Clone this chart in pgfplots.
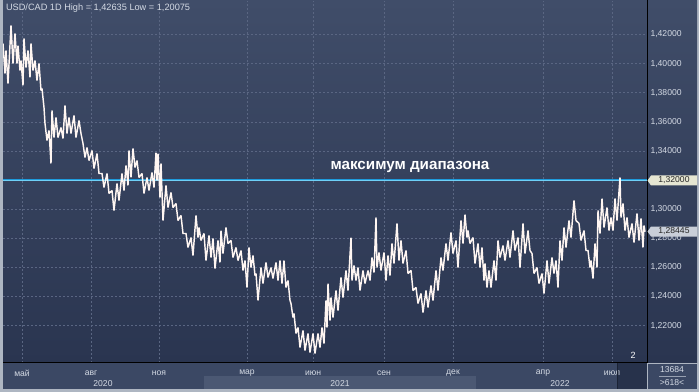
\documentclass[border=0pt]{standalone}
\usepackage{pgfplots}
\pgfplotsset{compat=1.18}
\usepackage{fontspec}
\setmainfont{Liberation Sans}
\definecolor{frame}{HTML}{AEB6C2}
\definecolor{bgtop}{HTML}{404D69}
\definecolor{bgbot}{HTML}{2A3550}
\definecolor{panel}{HTML}{3B4864}
\definecolor{yearlight}{HTML}{4B5873}
\definecolor{darkbox}{HTML}{27324B}
\definecolor{gridc}{HTML}{5A6682}
\definecolor{ticktext}{HTML}{D4DAE4}
\definecolor{cyanl}{HTML}{1E9BDB}
\definecolor{cyanc}{HTML}{6FD0F5}
\definecolor{series}{HTML}{FFF6F2}
\definecolor{tagone}{HTML}{E6E6D2}
\definecolor{tagtwo}{HTML}{C9CED8}
\begin{document}
\begin{tikzpicture}[x=1pt,y=1pt]
\fill[frame] (0,0) rectangle (699,391);
\shade[top color=bgtop,bottom color=bgbot] (3,29) rectangle (647,391);
\shade[top color=bgtop,bottom color=bgbot] (647,29) rectangle (697,391);
\fill[panel] (3,3) rectangle (647,29);
\fill[yearlight] (204,3) rectangle (476,16);
\fill[darkbox] (617,3) rectangle (647,29);
\fill[panel] (648,3) rectangle (697,28);
\begin{axis}[
  at={(3pt,29pt)}, anchor=south west,
  scale only axis, width=644pt, height=362pt,
  xmin=3, xmax=647, ymin=1.194664, ymax=1.443358,
  axis line style={draw=none}, major tick length=0pt,
  xtick={22,91,159,247,313,384,453,543,612},
  xticklabels={май,авг,ноя,мар,июн,сен,дек,апр,июл},
  ytick={1.22,1.24,1.26,1.28,1.30,1.34,1.36,1.38,1.40,1.42},
  yticklabel pos=right,
  grid=major,
  major grid style={draw=gridc, dash pattern=on 2pt off 2pt, line width=0.6pt},
  xticklabel style={font=\fontsize{8.6}{10}\selectfont, text=ticktext, anchor=center, yshift=-10.5pt},
  yticklabel style={font=\fontsize{8.6}{10}\selectfont, text=ticktext, anchor=west},
  /pgf/number format/.cd, fixed, fixed zerofill, precision=5, use comma, assume math mode=true,
]
\addplot[cyanl, line width=2.6pt] coordinates {(3,1.32) (647,1.32)};
\addplot[cyanc, line width=0.6pt] coordinates {(3,1.32) (647,1.32)};
\addplot[series, line width=1.45pt, line join=miter, miter limit=2] table {
x y
3 1.4138
5 1.3932
6 1.4090
8 1.3863
11 1.4262
13 1.4001
15 1.4207
17 1.4001
18 1.4124
20 1.3953
21 1.4021
23 1.3850
24 1.4173
26 1.3973
28 1.4090
30 1.3905
31 1.4138
33 1.3953
35 1.4021
37 1.3884
39 1.4001
41 1.3815
42 1.3829
44 1.3698
45 1.3589
47 1.3472
49 1.3541
51 1.3314
52 1.3678
54 1.3492
56 1.3630
58 1.3492
61 1.3561
63 1.3486
65 1.3712
67 1.3520
69 1.3630
71 1.3520
74 1.3644
76 1.3492
79 1.3609
81 1.3520
83 1.3451
85 1.3355
87 1.3424
89 1.3334
92 1.3403
94 1.3279
97 1.3382
99 1.3245
102 1.3245
104 1.3149
107 1.3245
109 1.3108
112 1.3128
114 1.2991
117 1.3176
119 1.3060
122 1.3245
124 1.3128
126 1.3300
128 1.3163
129 1.3403
131 1.3218
133 1.3417
135 1.3286
137 1.3334
139 1.3218
142 1.3245
144 1.3108
147 1.3218
149 1.3128
152 1.3252
154 1.3149
156 1.3389
157 1.3197
158 1.3382
160 1.3080
161 1.3314
163 1.2922
166 1.3163
168 1.3011
171 1.3115
173 1.3011
176 1.3039
178 1.2922
181 1.2957
183 1.2833
186 1.2833
188 1.2737
191 1.2805
193 1.2682
196 1.2957
198 1.2805
199 1.2874
201 1.2785
204 1.2833
206 1.2647
209 1.2819
211 1.2668
213 1.2799
215 1.2592
218 1.2785
220 1.2634
221 1.2853
223 1.2695
226 1.2874
228 1.2764
231 1.2785
233 1.2668
236 1.2737
238 1.2647
241 1.2716
243 1.2579
245 1.2647
247 1.2462
249 1.2737
251 1.2599
253 1.2682
255 1.2544
256 1.2558
258 1.2373
261 1.2599
263 1.2489
266 1.2634
268 1.2531
271 1.2599
273 1.2524
276 1.2634
278 1.2510
280 1.2647
282 1.2489
284 1.2647
286 1.2462
288 1.2510
290 1.2373
291 1.2352
293 1.2256
294 1.2283
296 1.2146
298 1.2187
300 1.2050
303 1.2167
305 1.2029
308 1.2146
310 1.2015
313 1.2146
315 1.2009
318 1.2146
320 1.2050
322 1.2187
324 1.2077
326 1.2373
327 1.2187
328 1.2489
330 1.2235
331 1.2393
333 1.2256
336 1.2441
338 1.2304
341 1.2531
343 1.2393
346 1.2579
348 1.2441
351 1.2805
352 1.2510
354 1.2613
356 1.2510
358 1.2599
360 1.2441
363 1.2579
365 1.2489
368 1.2579
370 1.2510
372 1.2668
374 1.2565
376 1.2943
377 1.2599
379 1.2702
381 1.2579
384 1.2702
386 1.2510
388 1.2682
390 1.2544
392 1.2764
394 1.2627
397 1.2902
399 1.2647
401 1.2785
403 1.2627
406 1.2716
408 1.2558
411 1.2579
413 1.2441
416 1.2462
418 1.2352
421 1.2421
423 1.2290
426 1.2441
428 1.2325
431 1.2476
433 1.2373
436 1.2579
438 1.2441
441 1.2668
443 1.2579
446 1.2764
448 1.2647
451 1.2840
453 1.2695
456 1.2785
458 1.2599
461 1.2922
463 1.2764
465 1.2963
467 1.2805
468 1.2853
470 1.2764
473 1.2805
475 1.2627
478 1.2764
480 1.2599
482 1.2737
484 1.2510
485 1.2627
487 1.2462
489 1.2579
491 1.2462
494 1.2647
496 1.2510
498 1.2785
500 1.2668
503 1.2750
505 1.2647
508 1.2785
510 1.2668
513 1.2853
515 1.2716
518 1.2805
520 1.2599
523 1.2902
525 1.2695
528 1.2853
530 1.2716
532 1.2695
534 1.2558
537 1.2599
539 1.2489
542 1.2558
544 1.2421
547 1.2647
549 1.2489
552 1.2668
554 1.2558
556 1.2647
558 1.2462
560 1.2785
562 1.2647
564 1.2874
566 1.2737
569 1.2922
571 1.2805
574 1.3060
576 1.2922
579 1.2902
581 1.2785
584 1.2853
586 1.2716
588 1.2716
590 1.2599
591 1.2647
593 1.2524
595 1.2764
597 1.2599
598 1.2991
600 1.2833
602 1.3073
604 1.2874
607 1.3011
609 1.2853
611 1.2943
613 1.2853
615 1.3073
617 1.2922
620 1.3218
621 1.2943
623 1.3039
625 1.2853
627 1.2943
629 1.2805
632 1.2902
634 1.2771
637 1.2970
639 1.2785
641 1.2936
643 1.2737
644 1.2888
645 1.28445
};
\node[text=white, font=\fontsize{15.2}{17}\selectfont\bfseries] at (axis cs:410,1.3290) {максимум диапазона};
\end{axis}
\draw[black, line width=1pt] (647,29) -- (647,391);
\draw[black, line width=1pt] (3,29) -- (647,29);
\draw[darkbox!70!black, line width=0.5pt] (617,3) -- (617,29);
% price tags
\fill[tagone] (647.5,211) -- (651,216) -- (697,216) -- (697,206) -- (651,206) -- cycle;
\node[text=black!85, font=\fontsize{8.6}{10}\selectfont] at (674,211) {1,32000};
\fill[tagtwo] (647.5,160) -- (651,165) -- (697,165) -- (697,155) -- (651,155) -- cycle;
\node[text=black!85, font=\fontsize{8.6}{10}\selectfont] at (674,160) {1,28445};
% texts
\node[anchor=west, text=ticktext, font=\fontsize{9.2}{11}\selectfont] at (2.5,383) {USD/CAD 1D High = 1,42635 Low = 1,20075};
\node[text=white, font=\fontsize{9}{10}\selectfont] at (633,36) {2};
\node[text=ticktext, font=\fontsize{8.6}{10}\selectfont] at (103,7.5) {2020};
\node[text=ticktext, font=\fontsize{8.6}{10}\selectfont] at (340,7.5) {2021};
\node[text=ticktext, font=\fontsize{8.6}{10}\selectfont] at (560,7.5) {2022};
\node[text=ticktext, font=\fontsize{8.6}{10}\selectfont] at (672,21.5) {13684};
\draw[ticktext!60!panel, line width=0.5pt] (659,15.5) -- (686,15.5);
\node[text=ticktext, font=\fontsize{8.6}{10}\selectfont] at (672,8.5) {>618<};
\end{tikzpicture}
\end{document}
